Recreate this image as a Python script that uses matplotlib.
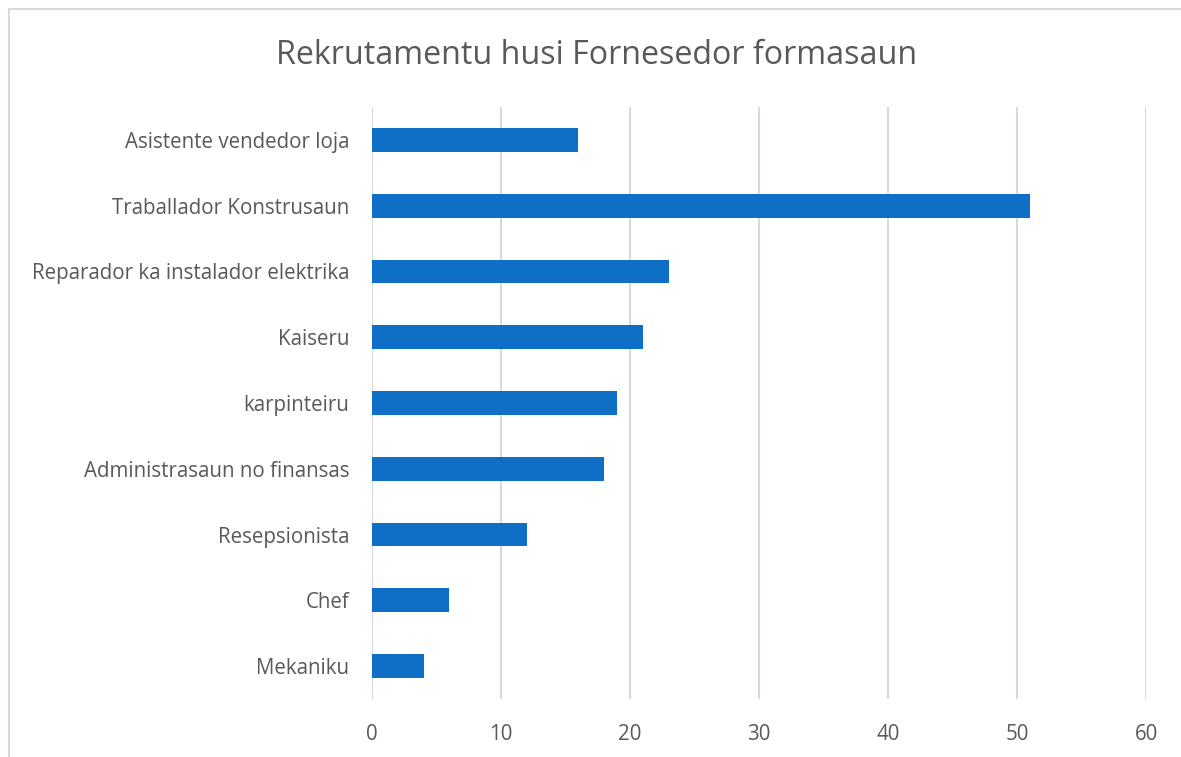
import matplotlib.pyplot as plt
from matplotlib.patches import Rectangle

# categories from top to bottom as shown in the chart
categories = ['Asistente vendedor loja', 'Traballador Konstrusaun',
              'Reparador ka instalador elektrika', 'Kaiseru', 'karpinteiru',
              'Administrasaun no finansas', 'Resepsionista', 'Chef', 'Mekaniku']
values = [16, 51, 23, 21, 19, 18, 12, 6, 4]
x_ticks = [0, 10, 20, 30, 40, 50, 60]

plt.rcParams['font.family'] = ['Open Sans', 'DejaVu Sans']

fig = plt.figure(figsize=(11.81, 7.57), dpi=100)
ax = fig.add_axes([372 / 1181, 1 - 699 / 757, (1146 - 372) / 1181, (699 - 107) / 757])

# outer chart border (runs off right and bottom of image)
fig.patches.append(Rectangle((9 / 1181, -0.1), 1.2, 1 - 9 / 757 + 0.1,
                             transform=fig.transFigure, fill=False,
                             edgecolor='#D9D9D9', linewidth=1.5))

pos = list(range(len(categories)))[::-1]
ax.barh(pos, values, height=0.36, color='#0F6FC6', zorder=3)

ax.set_xlim(0, 60)
ax.set_ylim(-0.5, len(categories) - 0.5)
ax.set_xticks(x_ticks)
ax.set_yticks(pos)
ax.set_yticklabels(categories)
ax.grid(axis='x', color='#D9D9D9', linewidth=1.5, zorder=0)
for s in ax.spines.values():
    s.set_visible(False)
ax.axvline(0, color='#D9D9D9', linewidth=1.5, zorder=1)
ax.tick_params(axis='both', length=0, labelsize=14.8, colors='#595959')
ax.tick_params(axis='y', pad=16.5)
ax.tick_params(axis='x', pad=18)

fig.text(597 / 1181, 1 - 56 / 757, 'Rekrutamentu husi Fornesedor formasaun',
         ha='center', va='center', fontsize=23.2, color='#595959')

fig.savefig('out.png', dpi=100)
